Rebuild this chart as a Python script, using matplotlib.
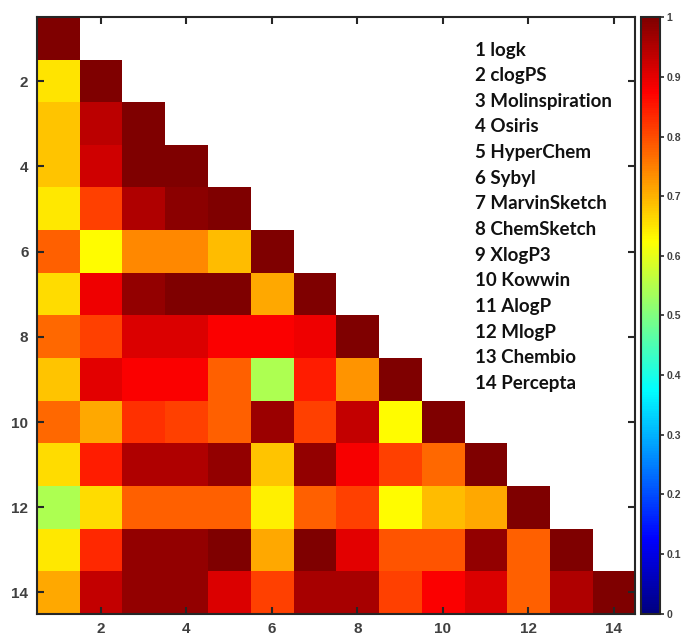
import numpy as np
import matplotlib
matplotlib.use("Agg")
import matplotlib.pyplot as plt
from matplotlib.colors import LinearSegmentedColormap

# lower-triangle correlation values
rows = [
    [1.00],
    [0.65, 1.00],
    [0.68, 0.94, 1.00],
    [0.68, 0.92, 1.00, 1.00],
    [0.645, 0.81, 0.95, 0.985, 1.00],
    [0.78, 0.625, 0.74, 0.74, 0.69, 1.00],
    [0.66, 0.89, 0.98, 1.00, 1.00, 0.71, 1.00],
    [0.77, 0.81, 0.91, 0.91, 0.875, 0.875, 0.89, 1.00],
    [0.68, 0.90, 0.875, 0.875, 0.78, 0.545, 0.845, 0.73, 1.00],
    [0.77, 0.71, 0.825, 0.81, 0.78, 0.97, 0.81, 0.93, 0.625, 1.00],
    [0.66, 0.845, 0.95, 0.95, 0.98, 0.68, 0.98, 0.88, 0.81, 0.77, 1.00],
    [0.545, 0.66, 0.78, 0.78, 0.78, 0.64, 0.78, 0.81, 0.625, 0.69, 0.71, 1.00],
    [0.645, 0.835, 0.98, 0.98, 1.00, 0.71, 1.00, 0.90, 0.79, 0.79, 0.98, 0.78, 1.00],
    [0.71, 0.93, 0.98, 0.98, 0.91, 0.81, 0.96, 0.96, 0.81, 0.875, 0.91, 0.78, 0.95, 1.00],
]
names = ["logk", "clogPS", "Molinspiration", "Osiris", "HyperChem", "Sybyl",
         "MarvinSketch", "ChemSketch", "XlogP3", "Kowwin", "AlogP", "MlogP",
         "Chembio", "Percepta"]

n = len(rows)
mat = np.full((n, n), np.nan)
for i, r in enumerate(rows):
    mat[i, :len(r)] = r
mat = np.ma.masked_invalid(mat)

# matlab-style jet
jet = LinearSegmentedColormap("mjet", {
    "red":   [(0, 0, 0), (0.375, 0, 0), (0.625, 1, 1), (0.875, 1, 1), (1, 0.5, 0.5)],
    "green": [(0, 0, 0), (0.125, 0, 0), (0.375, 1, 1), (0.625, 1, 1), (0.875, 0, 0), (1, 0, 0)],
    "blue":  [(0, 0.5, 0.5), (0.125, 1, 1), (0.375, 1, 1), (0.625, 0, 0), (1, 0, 0)],
})

fig = plt.figure(figsize=(6.81, 6.38), dpi=100)
ax = fig.add_axes([0.054, 0.038, 0.879, 0.935])
cax = fig.add_axes([0.941, 0.038, 0.028, 0.935])

im = ax.imshow(mat, cmap=jet, vmin=0, vmax=1, aspect="auto",
               extent=(0.5, n + 0.5, n + 0.5, 0.5), interpolation="nearest")

tc = "#404040"
ticks = np.arange(2, n + 1, 2)
ax.set_xticks(ticks)
ax.set_yticks(ticks)
ax.tick_params(direction="in", length=5, width=1.5, top=True, right=True,
               labelsize=11, colors="#262626", labelcolor=tc, pad=6)
for lab in ax.get_xticklabels() + ax.get_yticklabels():
    lab.set_fontweight("bold")
    lab.set_family("Liberation Sans")
for s in ax.spines.values():
    s.set_linewidth(1.5)
    s.set_color("#262626")

for i, nm in enumerate(names):
    ax.text(0.732, 0.945 - i * 0.043, "%d %s" % (i + 1, nm), transform=ax.transAxes,
            fontsize=13.5, fontweight="bold", family="Lato", color="#111111", va="center")

cb = fig.colorbar(im, cax=cax, ticks=np.linspace(0, 1, 11))
cb.ax.set_yticklabels(["0", "0.1", "0.2", "0.3", "0.4", "0.5", "0.6", "0.7", "0.8", "0.9", "1"])
cb.ax.tick_params(length=3, width=1.2, labelsize=7.5, colors="#262626", labelcolor=tc, pad=2)
for lab in cb.ax.get_yticklabels():
    lab.set_fontweight("bold")
    lab.set_family("Liberation Sans")
cb.outline.set_linewidth(1.5)
cb.outline.set_edgecolor("#262626")

fig.savefig("out.png", dpi=100)
